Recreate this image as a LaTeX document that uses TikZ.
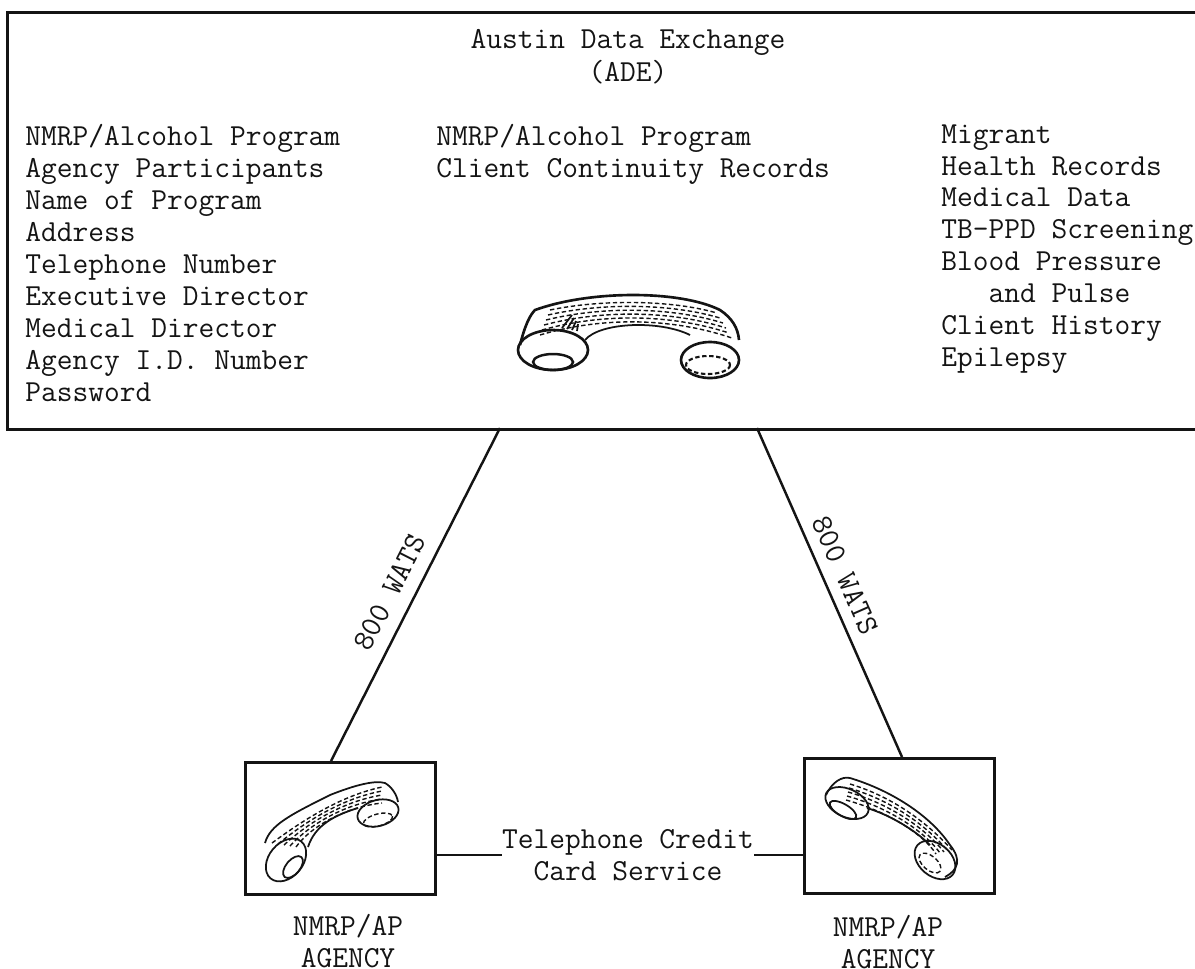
\documentclass[tikz,border=0pt]{standalone}
\usepackage{xcolor}
\usepackage{tikz}
\usetikzlibrary{positioning, calc}
\definecolor{myink}{RGB}{20,20,20}
\tikzset{
  box/.style={rectangle, draw=myink, line width=1.8pt, anchor=north west, inner sep=0pt},
  listing/.style={font=\ttfamily\fontsize{17.4}{18.2}\selectfont, text=myink, align=left, anchor=north west, inner sep=0pt},
  centered/.style={font=\ttfamily\fontsize{17.4}{18.6}\selectfont, text=myink, align=center, inner sep=0pt},
  link/.style={line width=1.4pt, color=myink},
  phoneline/.style={line width=1pt, color=myink},
  phonehatch/.style={line width=0.8pt, color=myink, dash pattern=on 2.5pt off 1.5pt}
}
\begin{document}
\begin{tikzpicture}[x=0.02cm, y=-0.02cm]
  \useasboundingbox (0,0) rectangle (1195,968);
  % Exchange
  \node[box, minimum width=23.8cm, minimum height=8.34cm] (ade) at (6,11) {};
  \node[centered] (title) at (628,57) {Austin Data Exchange\\(ADE)};
  \node[listing] (agencylist) at (25,124) {NMRP/Alcohol Program\\Agency Participants\\Name of Program\\Address\\Telephone Number\\Executive Director\\Medical Director\\Agency I.D. Number\\Password};
  \node[listing] (clientlist) at (436,124) {NMRP/Alcohol Program\\Client Continuity Records};
  \node[listing] (migrantlist) at (941,124) {Migrant\\Health Records\\Medical Data\\TB-PPD Screening\\Blood Pressure\\~~~and Pulse\\Client History\\Epilepsy};
  % Agencies
  \node[box, minimum width=3.8cm, minimum height=2.64cm] (agencyL) at (244,761) {};
  \node[box, minimum width=3.8cm, minimum height=2.7cm] (agencyR) at (803,757) {};
  \node[centered] (labelL) at (348,941) {NMRP/AP\\AGENCY};
  \node[centered] (labelR) at (888,942) {NMRP/AP\\AGENCY};
  \node[centered] (credit) at (628,855) {Telephone Credit\\Card Service};
  % Connections
  \coordinate (adeL) at (500,428);
  \coordinate (adeR) at (757,428);
  \coordinate (topL) at (331,761);
  \coordinate (topR) at (902,757);
  \draw[link] (adeL) -- node[centered, sloped, pos=0.525, yshift=13.6pt] (watsL) {800 WATS} (topL);
  \draw[link] (adeR) -- node[centered, sloped, pos=0.473, yshift=12pt] (watsR) {800 WATS} (topR);
  \draw[link] (agencyL.east |- credit.west) -- (credit.west);
  \draw[link] (credit.east) -- (agencyR.west |- credit.east);
  % Big handset
  \draw[phoneline, line width=1.5pt] (520,345) .. controls (525,325) and (530,315) .. (535,310)
    .. controls (590,290) and (680,290) .. (720,310) .. controls (732,318) and (738,328) .. (739,340);
  \draw[phoneline] (585,340) .. controls (600,322) and (660,320) .. (690,335);
  \draw[phoneline, line width=1.5pt] (553,350) ellipse (35 and 20);
  \draw[phoneline, line width=1.4pt] (553,362) ellipse (20 and 8);
  \draw[phoneline, line width=1.5pt] (710,360) ellipse (29 and 18);
  \draw[phonehatch, line width=1.2pt] (708,365) ellipse (22 and 9);
  \foreach \i in {0,1,2,3,4,5}
    \draw[phonehatch] (540+\i*2,335-\i*5) .. controls (600,317-\i*3.5) and (670,317-\i*3.5) .. (732-\i*3,338-\i*5);
  \foreach \i in {0,1,2,3}
    \draw[phoneline] (572+\i*2,315+\i*3) -- (562+\i*5,328+\i);
  % Left handset
  \draw[phoneline] (265,843) .. controls (270,825) and (290,815) .. (330,795)
    .. controls (355,785) and (375,780) .. (385,783) .. controls (392,787) and (397,795) .. (398,802);
  \draw[phoneline] (308,847) .. controls (315,825) and (335,815) .. (358,808);
  \draw[phoneline, rotate around={50:(286,860)}] (286,860) ellipse (24 and 17);
  \draw[phoneline, rotate around={50:(293,867)}] (293,867) ellipse (13 and 7);
  \draw[phoneline, rotate around={15:(378,813)}] (378,813) ellipse (21 and 13);
  \draw[phonehatch, rotate around={15:(378,820)}] (378,820) ellipse (15 and 6);
  \foreach \i in {0,1,2,3,4}
    \draw[phonehatch] (272+\i*6,843+\i*1) .. controls (310,815+\i*3) and (345,795+\i*3) .. (382,787+\i*4);
  % Right handset
  \draw[phoneline] (826,795) .. controls (832,782) and (842,776) .. (850,778)
    .. controls (890,790) and (930,815) .. (950,845) .. controls (962,860) and (958,870) .. (945,877);
  \draw[phoneline] (867,808) .. controls (890,815) and (915,830) .. (930,845);
  \draw[phoneline, rotate around={-25:(847,803)}] (847,803) ellipse (23 and 14);
  \draw[phoneline, rotate around={-30:(843,810)}] (843,810) ellipse (15 and 6);
  \draw[phoneline, rotate around={-40:(935,860)}] (935,860) ellipse (23 and 16);
  \draw[phonehatch, rotate around={-40:(930,863)}] (930,863) ellipse (13 and 7);
  \foreach \i in {0,1,2,3,4}
    \draw[phonehatch] (850-\i,784+\i*4) .. controls (890,796+\i*4) and (925,820+\i*4) .. (952-\i*4,850+\i*1);
\end{tikzpicture}
\end{document}
